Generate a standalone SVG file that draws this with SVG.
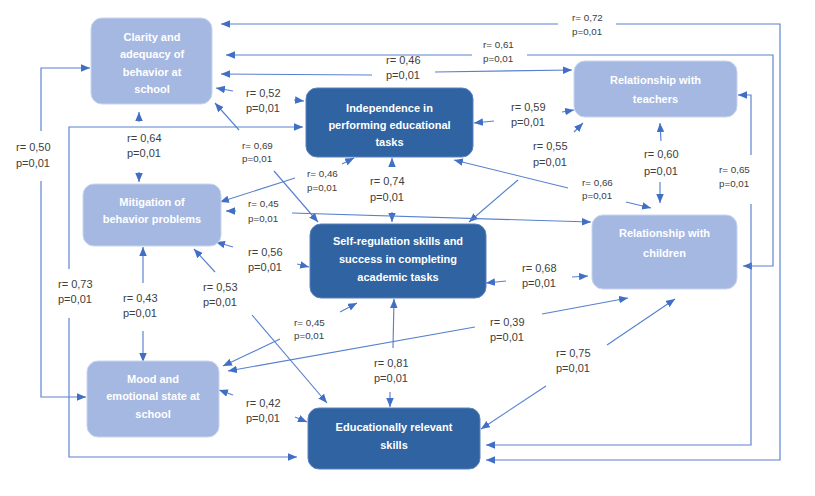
<svg xmlns="http://www.w3.org/2000/svg" width="815" height="496" viewBox="0 0 815 496">
<style>
.light{fill:#a5b8e2;stroke:#c8d5ef;stroke-width:1}
.dark{fill:#2f63a1;stroke:#5b82bd;stroke-width:1}
.nt{font-family:"Liberation Sans",Arial,sans-serif;font-size:11px;font-weight:bold;fill:#ffffff;text-anchor:middle}
.c path{fill:none;stroke:#5880d0;stroke-width:1.15;marker-end:url(#ah)}
.lb{font-family:"Liberation Sans",Arial,sans-serif;font-size:11px;fill:#404040}
.ls{font-family:"Liberation Sans",Arial,sans-serif;font-size:9.8px;fill:#404040}
</style>
<defs>
<marker id="ah" markerUnits="userSpaceOnUse" markerWidth="10" markerHeight="8" refX="9" refY="3.75" orient="auto">
<path d="M0,0 L9,3.75 L0,7.5 Z" fill="#416fc6"/>
</marker>
</defs>
<rect width="815" height="496" fill="#ffffff"/>

<g id="connectors" class="c">
<path d="M558,24 H221"/>
<path d="M616,24 H780 V460 H486"/>
<path d="M472,55 H226"/>
<path d="M527,55 H773 V266 H743"/>
<path d="M372,75 L221,74"/>
<path d="M435,72 L572,70"/>
<path d="M233,91 L216,88"/>
<path d="M294,100 L304,101"/>
<path d="M69,269 V127 H303"/>
<path d="M69,318 V457 H297"/>
<path d="M41,131 V68 H90"/>
<path d="M41,181 V397 H86"/>
<path d="M139,122 V112"/>
<path d="M139,172 V182"/>
<path d="M239,130 L215,103"/>
<path d="M274,171 L318,222"/>
<path d="M295,178 L220,202"/>
<path d="M342,164 L354,158"/>
<path d="M392,166 V158"/>
<path d="M392,212 V222"/>
<path d="M494,121 L474,123"/>
<path d="M562,112 L574,110"/>
<path d="M574,132 L583,123"/>
<path d="M518,180 L469,222"/>
<path d="M568,188 L454,160"/>
<path d="M626,202 L651,208"/>
<path d="M661,141 L660,123"/>
<path d="M660,182 V203"/>
<path d="M751,155 V95 H738"/>
<path d="M751,204 V445 H486"/>
<path d="M236,211 H226"/>
<path d="M292,213 L591,222"/>
<path d="M233,247 L216,242"/>
<path d="M297,264 L309,267"/>
<path d="M143,283 V247"/>
<path d="M143,331 V362"/>
<path d="M215,272 L194,249"/>
<path d="M252,315 L327,403"/>
<path d="M280,339 L223,366"/>
<path d="M340,312 L357,303"/>
<path d="M475,327 L228,371"/>
<path d="M542,314 L628,298"/>
<path d="M393,348 L394,299"/>
<path d="M390,392 V407"/>
<path d="M607,345 L675,299"/>
<path d="M546,386 L481,429"/>
<path d="M233,395 L219,390"/>
<path d="M295,417 L307,422"/>
<path d="M506,281 L486,283"/>
<path d="M572,277 L588,276"/>
</g>

<g id="labels">
<text class="ls" x="572" y="20.5">r= 0,72</text><text class="ls" x="572" y="34.5">p=0,01</text>
<text class="ls" x="483" y="47.5">r= 0,61</text><text class="ls" x="483" y="61.5">p=0,01</text>
<text class="lb" x="386" y="64">r= 0,46</text><text class="lb" x="386" y="79">p=0,01</text>
<text class="lb" x="246" y="97">r= 0,52</text><text class="lb" x="246" y="112">p=0,01</text>
<text class="lb" x="58" y="288">r= 0,73</text><text class="lb" x="58" y="303">p=0,01</text>
<text class="lb" x="16" y="151">r= 0,50</text><text class="lb" x="16" y="167">p=0,01</text>
<text class="lb" x="127" y="142">r= 0,64</text><text class="lb" x="127" y="157">p=0,01</text>
<text class="ls" x="242" y="148.5">r= 0,69</text><text class="ls" x="242" y="161.5">p=0,01</text>
<text class="ls" x="307" y="176.5">r= 0,46</text><text class="ls" x="307" y="190.5">p=0,01</text>
<text class="lb" x="370" y="185">r= 0,74</text><text class="lb" x="370" y="201">p=0,01</text>
<text class="lb" x="511" y="111">r= 0,59</text><text class="lb" x="511" y="126">p=0,01</text>
<text class="lb" x="533" y="150">r= 0,55</text><text class="lb" x="533" y="166">p=0,01</text>
<text class="ls" x="582" y="185.5">r= 0,66</text><text class="ls" x="582" y="198.5">p=0,01</text>
<text class="lb" x="644" y="158">r= 0,60</text><text class="lb" x="644" y="175">p=0,01</text>
<text class="ls" x="719" y="172.5">r= 0,65</text><text class="ls" x="719" y="186.5">p=0,01</text>
<text class="ls" x="248" y="206.5">r= 0,45</text><text class="ls" x="248" y="221.5">p=0,01</text>
<text class="lb" x="248" y="256">r= 0,56</text><text class="lb" x="248" y="271">p=0,01</text>
<text class="lb" x="123" y="302">r= 0,43</text><text class="lb" x="123" y="317">p=0,01</text>
<text class="lb" x="203" y="291">r= 0,53</text><text class="lb" x="203" y="306">p=0,01</text>
<text class="ls" x="294" y="325.5">r= 0,45</text><text class="ls" x="294" y="338.5">p=0,01</text>
<text class="lb" x="490" y="326">r= 0,39</text><text class="lb" x="490" y="341">p=0,01</text>
<text class="lb" x="374" y="367">r= 0,81</text><text class="lb" x="374" y="382">p=0,01</text>
<text class="lb" x="556" y="357">r= 0,75</text><text class="lb" x="556" y="372">p=0,01</text>
<text class="lb" x="246" y="407">r= 0,42</text><text class="lb" x="246" y="422">p=0,01</text>
<text class="lb" x="522" y="272">r= 0,68</text><text class="lb" x="522" y="287">p=0,01</text>
</g>

<g id="clarity">
<rect class="light" x="91" y="18" width="121" height="86" rx="11"/>
<text class="nt" x="152" y="41">Clarity and</text>
<text class="nt" x="152" y="58">adequacy of</text>
<text class="nt" x="152" y="76">behavior at</text>
<text class="nt" x="152" y="93">school</text>
</g>
<g id="independence">
<rect class="dark" x="306" y="88" width="167" height="69" rx="11"/>
<text class="nt" x="389.5" y="112">Independence in</text>
<text class="nt" x="389.5" y="129">performing educational</text>
<text class="nt" x="389.5" y="146">tasks</text>
</g>
<g id="teachers">
<rect class="light" x="574" y="61" width="163" height="56" rx="11"/>
<text class="nt" x="655.5" y="84">Relationship with</text>
<text class="nt" x="655.5" y="103">teachers</text>
</g>
<g id="mitigation">
<rect class="light" x="83" y="184" width="138" height="62" rx="11"/>
<text class="nt" x="152" y="206">Mitigation of</text>
<text class="nt" x="152" y="223">behavior problems</text>
</g>
<g id="selfregulation">
<rect class="dark" x="310" y="224" width="176" height="74" rx="11"/>
<text class="nt" x="398" y="245">Self-regulation skills and</text>
<text class="nt" x="398" y="263">success in completing</text>
<text class="nt" x="398" y="281">academic tasks</text>
</g>
<g id="children">
<rect class="light" x="592" y="215" width="145" height="74" rx="11"/>
<text class="nt" x="664.5" y="237">Relationship with</text>
<text class="nt" x="664.5" y="257">children</text>
</g>
<g id="mood">
<rect class="light" x="87" y="361" width="132" height="76" rx="11"/>
<text class="nt" x="153" y="383">Mood and</text>
<text class="nt" x="153" y="400">emotional state at</text>
<text class="nt" x="153" y="418">school</text>
</g>
<g id="skills">
<rect class="dark" x="308" y="408" width="172" height="61" rx="11"/>
<text class="nt" x="394" y="431">Educationally relevant</text>
<text class="nt" x="394" y="449">skills</text>
</g>
</svg>
